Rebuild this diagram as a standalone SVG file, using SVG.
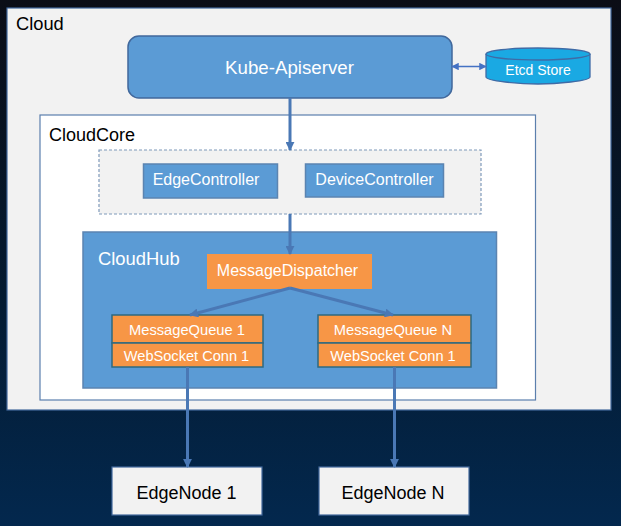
<svg xmlns="http://www.w3.org/2000/svg" width="621" height="526" viewBox="0 0 621 526">
<style>
text{font-family:"Liberation Sans",Arial,sans-serif}
.w{fill:#fff}.k{fill:#000}
.m{text-anchor:middle}
.e{fill:none;stroke:#4a78b5;stroke-width:3}
.t{fill:none;stroke:#4472c4;stroke-width:1.5}
.o{fill:#f79646;stroke:#2f6a80;stroke-width:1.5}
.b{fill:#5b9bd5;stroke:#5b84b1;stroke-width:1.5}
.n{fill:#f2f2f2;stroke:#41689c;stroke-width:1.2}
</style>
<defs>
<linearGradient id="bg" x1="0" y1="0" x2="0" y2="1"><stop offset="0" stop-color="#0b0d16"/><stop offset="0.55" stop-color="#041a30"/><stop offset="1" stop-color="#03284e"/></linearGradient>
<marker id="a" viewBox="0 0 10 10" refX="9" refY="5" markerWidth="3" markerHeight="3" orient="auto"><path d="M0 0L10 5L0 10z" fill="#4a78b5"/></marker>
<marker id="s" viewBox="0 0 10 10" refX="9" refY="5" markerWidth="5" markerHeight="5" orient="auto-start-reverse"><path d="M0 0L10 5L0 10z" fill="#4472c4"/></marker>
</defs>
<rect width="621" height="526" fill="url(#bg)"/>
<g id="cloud"><rect class="n" x="7" y="8" width="604" height="402"/><text x="16" y="30" font-size="18.300" class="k">Cloud</text></g>
<g id="kube-apiserver"><rect x="128" y="36" width="324" height="62" rx="11" fill="#5b9bd5" stroke="#41689c" stroke-width="1.500"/><text x="289.500" y="74" font-size="18.700" class="w m">Kube-Apiserver</text></g>
<g id="etcd-store"><path d="M486 54V77C486 81 520 84 538 84C556 84 590 81 590 77V54" fill="#1aa9e3" stroke="#3f6ba6" stroke-width="1.3"/><ellipse cx="538" cy="54" rx="52" ry="6" fill="#1aa9e3" stroke="#3f6ba6" stroke-width="1.3"/><text x="538" y="74.500" font-size="14" class="w m">Etcd Store</text></g>
<g id="cloudcore"><rect x="40" y="115" width="495.500" height="285" fill="#fff" stroke="#5b7fad" stroke-width="1.2"/><text x="49" y="141" font-size="18" class="k">CloudCore</text></g>
<g id="controllers"><rect x="99" y="150" width="382" height="64" fill="#f2f2f2" stroke="#7f99ba" stroke-width="1.2" stroke-dasharray="3 2"/></g>
<g id="edgecontroller"><rect class="b" x="143.500" y="164" width="134" height="34"/><text x="206" y="185" font-size="16" class="w m">EdgeController</text></g>
<g id="devicecontroller"><rect class="b" x="305.500" y="164" width="138" height="33"/><text x="374.500" y="185" font-size="16" class="w m">DeviceController</text></g>
<g id="cloudhub"><rect class="b" x="83" y="232" width="413.500" height="156"/><text x="98" y="265" font-size="18.400" class="w">CloudHub</text></g>
<g id="messagedispatcher"><rect x="207" y="254" width="165" height="35" fill="#f79646"/><text x="287.500" y="275.500" font-size="16" class="w m">MessageDispatcher</text></g>
<g id="queue-1"><rect class="o" x="112" y="315" width="151" height="28"/><text x="187" y="334.500" font-size="14.700" class="w m">MessageQueue 1</text></g>
<g id="conn-1"><rect class="o" x="112" y="343" width="151" height="24"/><text x="186.500" y="361" font-size="14.600" class="w m">WebSocket Conn 1</text></g>
<g id="queue-n"><rect class="o" x="318" y="315" width="153" height="28"/><text x="393" y="334.500" font-size="14.700" class="w m">MessageQueue N</text></g>
<g id="conn-n"><rect class="o" x="318" y="343" width="153" height="24"/><text x="393" y="361" font-size="14.600" class="w m">WebSocket Conn 1</text></g>
<g id="edgenode-1"><rect class="n" x="112" y="467" width="150" height="48"/><text x="186.500" y="499" font-size="18" class="k m">EdgeNode 1</text></g>
<g id="edgenode-n"><rect class="n" x="319" y="467" width="150" height="48"/><text x="393" y="499" font-size="18" class="k m">EdgeNode N</text></g>
<g id="connectors">
<path class="e" d="M290 98V150" marker-end="url(#a)"/>
<path class="e" d="M290 214V254" marker-end="url(#a)"/>
<path class="e" d="M290 288L190 315" marker-end="url(#a)"/>
<path class="e" d="M290 288L393 315" marker-end="url(#a)"/>
<path class="e" d="M187.500 367V467" marker-end="url(#a)"/>
<path class="e" d="M394.500 367V467" marker-end="url(#a)"/>
<path class="t" d="M452 66.500H486" marker-start="url(#s)" marker-end="url(#s)"/>
</g>
</svg>
